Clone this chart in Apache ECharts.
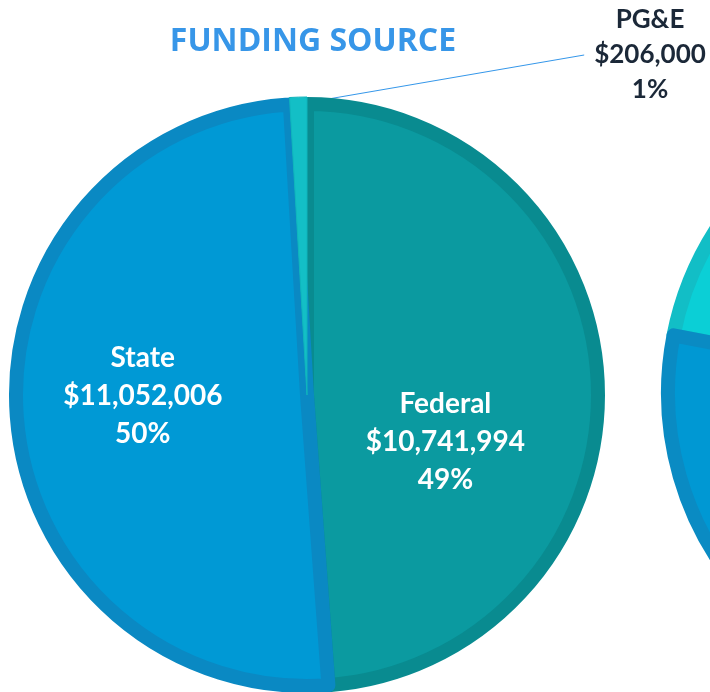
<!DOCTYPE html>
<html>
<head>
<meta charset="utf-8">
<script src="https://cdn.jsdelivr.net/npm/echarts@6/dist/echarts.min.js"></script>
<style>
  html, body { margin: 0; padding: 0; background: #fff; }
  #chart { width: 710px; height: 692px; }
</style>
</head>
<body>
<div id="chart"></div>
<script>
// funding source data
const sources = ['Federal', 'State', 'PG&E'];
const amounts = [10741994, 11052006, 206000];
const percents = ['49%', '50%', '1%'];

// second (cropped) pie at the right edge, only its left part shows
const sideSlices = ['Cyan part', 'Blue part'];
const sideShares = [35, 65];

const fills = ['#0B9AA0', '#0099D5', '#13BFC6'];
const edges = ['#098B90', '#0A89C3', '#0FB5BC'];

const fmt = n => '$' + n.toLocaleString('en-US');

// label nudges (dx, dy) from the default inside spot
const nudges = [[-10, 52], [-16, -9]];

const chart = echarts.init(document.getElementById('chart'), null, { renderer: 'canvas' });

chart.setOption({
    backgroundColor: '#fff',
    animation: false,
    title: {
        text: 'FUNDING SOURCE',
        left: 308,
        top: 21,
        textAlign: 'center',
        textStyle: {
            fontFamily: 'Open Sans',
            fontWeight: 'bold',
            fontSize: 32,
            color: '#3796E8'
        }
    },
    series: [
        {
            type: 'pie',
            center: [307, 395],
            radius: 291,
            startAngle: 90,
            clockwise: true,
            avoidLabelOverlap: false,
            data: sources.map((s, i) => ({
                name: s,
                value: amounts[i],
                itemStyle: i === 2
                    ? { color: fills[i], borderWidth: 0 }
                    : { color: fills[i], borderColor: edges[i], borderWidth: 14 },
                label: i === 2 ? {
                    position: 'outside',
                    color: '#1B2838',
                    fontSize: 26,
                    lineHeight: 35,
                    padding: [0, 10]
                } : {
                    position: 'inside',
                    color: '#fff',
                    fontSize: 28,
                    lineHeight: 38
                },
                labelLine: i === 2 ? {
                    show: true,
                    length: 10,
                    length2: 0,
                    lineStyle: { color: '#3597EA', width: 1 }
                } : { show: false }
            })),
            label: {
                fontFamily: 'Lato',
                fontWeight: 'bold',
                align: 'center',
                formatter: p => p.name + '\n' + fmt(p.value) + '\n' + percents[p.dataIndex]
            },
            labelLayout: function (params) {
                if (params.dataIndex === 2) {
                    return { x: 650, y: 55, align: 'center', verticalAlign: 'middle' };
                }
                const d = nudges[params.dataIndex];
                return { dx: d[0], dy: d[1] };
            },
            emphasis: { disabled: true }
        },
        {
            // overlay that keeps the thin PG&E wedge on top of the neighbours' edges
            type: 'pie',
            center: [307, 395],
            radius: 298,
            startAngle: 90,
            clockwise: true,
            silent: true,
            z: 3,
            label: { show: false },
            labelLine: { show: false },
            data: sources.map((s, i) => ({
                name: s,
                value: amounts[i],
                itemStyle: i === 2
                    ? { color: fills[i], borderColor: edges[i], borderWidth: 1 }
                    : { color: 'rgba(0,0,0,0)', borderWidth: 0 }
            })),
            emphasis: { disabled: true }
        },
        {
            type: 'pie',
            center: [970, 393],
            radius: 302,
            startAngle: 169,
            clockwise: true,
            label: { show: false },
            labelLine: { show: false },
            data: sideSlices.map((s, i) => ({
                name: s,
                value: sideShares[i],
                itemStyle: {
                    color: ['#0BCFD6', '#0098D3'][i],
                    borderColor: ['#12BEC6', '#0A8BC3'][i],
                    borderWidth: 14
                }
            })),
            emphasis: { disabled: true }
        }
    ]
});
</script>
</body>
</html>
